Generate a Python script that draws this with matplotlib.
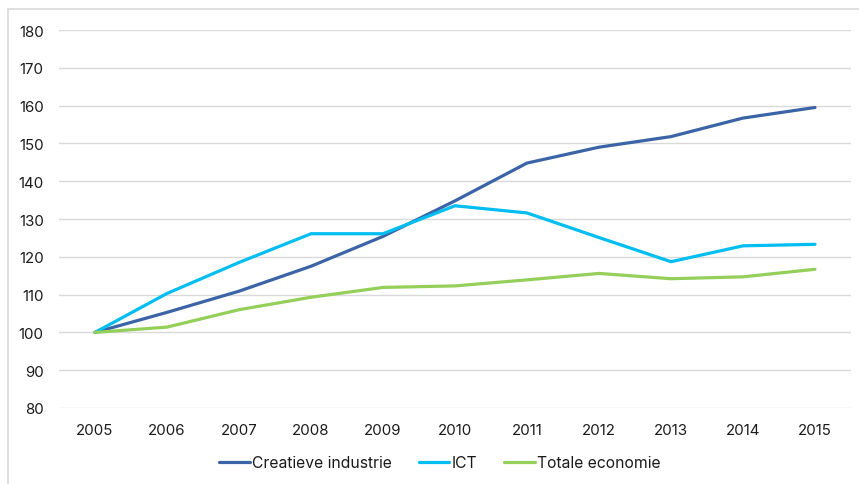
import matplotlib
matplotlib.use("Agg")
import matplotlib.pyplot as plt
from matplotlib.patches import Rectangle

years = ["2005", "2006", "2007", "2008", "2009", "2010", "2011", "2012", "2013", "2014", "2015"]
creatieve = [100, 105.3, 110.9, 117.5, 125.4, 134.8, 144.8, 149.0, 151.8, 156.7, 159.5]
ict = [100, 110.3, 118.5, 126.1, 126.1, 133.5, 131.6, 125.1, 118.7, 122.9, 123.3]
totale = [100, 101.4, 106.0, 109.3, 111.9, 112.3, 113.9, 115.6, 114.2, 114.7, 116.7]
yticks = [80, 90, 100, 110, 120, 130, 140, 150, 160, 170, 180]

plt.rcParams['font.family'] = ['Inter', 'DejaVu Sans']

W, H = 859, 485
fig = plt.figure(figsize=(W / 100, H / 100), dpi=100)
fig.patches.append(Rectangle((8 / W, -0.05), 1.0, 1 - 10 / H + 0.05, transform=fig.transFigure,
                             fill=False, edgecolor='#D9D9D9', linewidth=1.2))

ax = fig.add_axes([59 / W, 1 - 409 / H, (851 - 59) / W, (409 - 31) / H])
x = list(range(len(years)))
ax.plot(x, creatieve, color='#3A64A6', lw=2.3, label='Creatieve industrie', solid_capstyle='round')
ax.plot(x, ict, color='#00BDF2', lw=2.3, label='ICT', solid_capstyle='round')
ax.plot(x, totale, color='#94CF5A', lw=2.3, label='Totale economie', solid_capstyle='round')

ax.set_xlim(-0.5, len(years) - 0.5)
ax.set_ylim(80, 180)
ax.set_yticks(yticks)
ax.set_xticks(x)
ax.set_xticklabels(years)
ax.grid(axis='y', color='#D9D9D9', linewidth=1.0)
ax.set_axisbelow(True)
for s in ax.spines.values():
    s.set_visible(False)
ax.tick_params(axis='both', length=0, labelsize=10.8, colors='#1a1a1a')
ax.tick_params(axis='y', pad=11)
ax.tick_params(axis='x', pad=11)

leg = fig.legend(loc='center', bbox_to_anchor=(440 / W, 1 - 464 / H), ncol=3, frameon=False,
                 fontsize=11.3, handlelength=1.95, handletextpad=0.15, columnspacing=1.7)
for t in leg.get_texts():
    t.set_color('#1a1a1a')

fig.savefig('out.png', dpi=100)
